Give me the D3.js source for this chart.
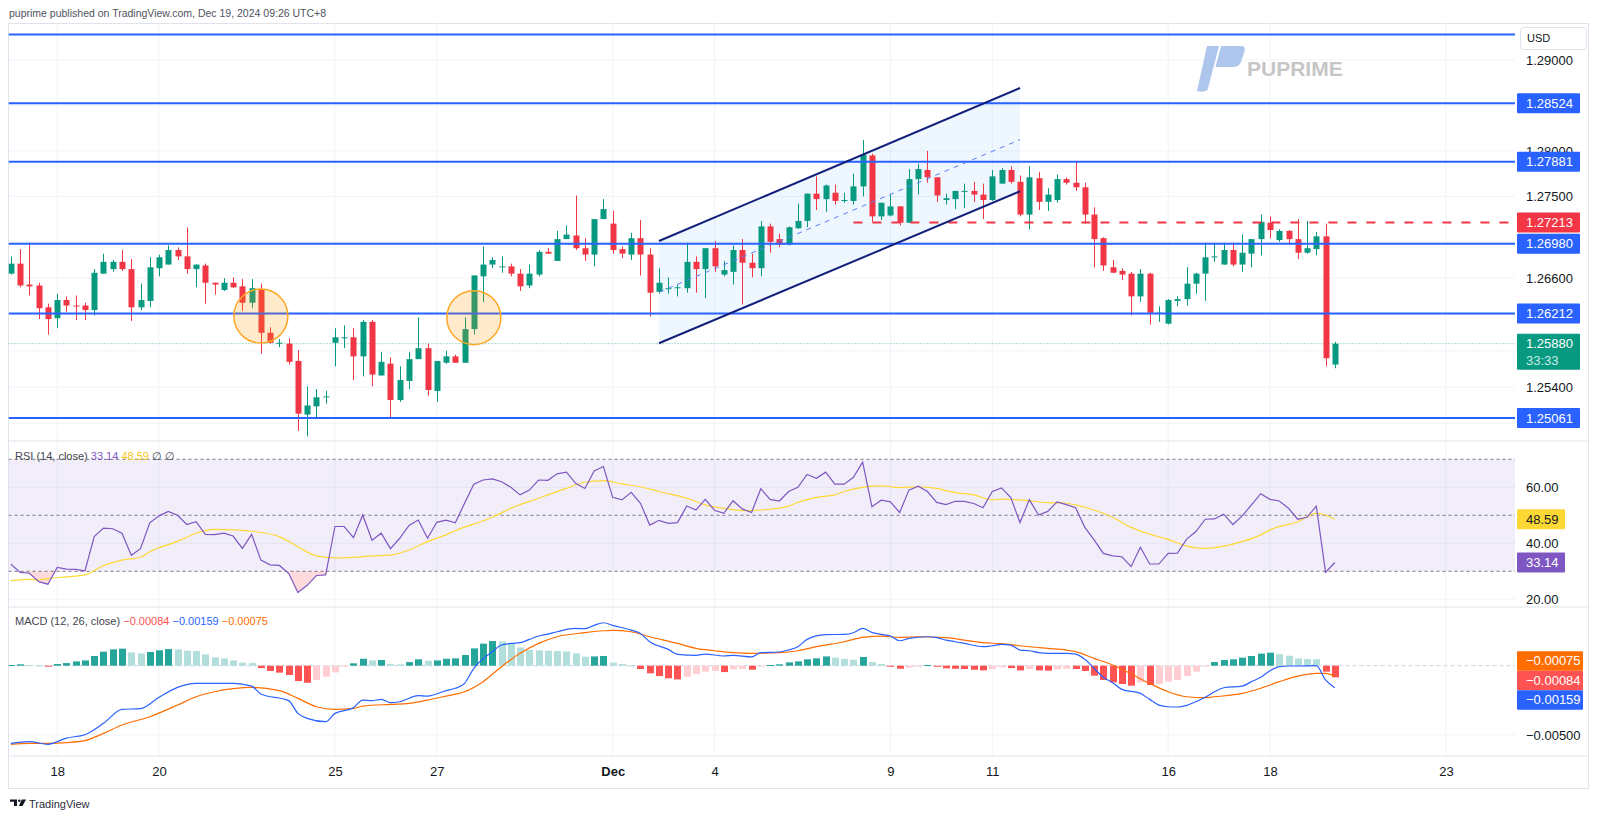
<!DOCTYPE html>
<html><head><meta charset="utf-8">
<script src="https://cdn.jsdelivr.net/npm/d3@7"></script>
<style>
html,body{margin:0;padding:0;background:#fff;}
svg{display:block;}
</style></head>
<body>
<svg id="chart" width="1600" height="819"></svg>
<script>
// ---------------- DATA ----------------
const barStart = -5; // index of first bar (0 = Nov 18 first bar)
const opens = [
1.2665,1.2676,1.2653,1.2652,1.2628,1.2616,1.2636,1.2630,1.2630,1.2625,
1.2665,1.2670,1.2678,1.2670,1.2628,1.2635,1.2671,1.2675,1.2691,1.2684,
1.2670,1.2674,1.2655,1.2647,1.2655,1.2651,1.2633,1.2648,1.2600,1.2588,
1.2588,1.2569,1.2510,1.2519,1.2529,1.2589,1.2594,1.2595,1.2574,1.2612,
1.2553,1.2566,1.2526,1.2547,1.2571,1.2583,1.2536,1.2567,1.2574,1.2567,
1.2604,1.2662,1.2675,1.2672,1.2673,1.2665,1.2652,1.2664,1.2689,1.2679,
1.2703,1.2707,1.2693,1.2686,1.2725,1.2720,1.2692,1.2686,1.2704,1.2686,
1.2645,1.2648,1.2649,1.2649,1.2678,1.2670,1.2693,1.2664,1.2667,1.2691,
1.2677,1.2671,1.2717,1.2703,1.2697,1.2715,1.2723,1.2753,1.2747,1.2754,
1.2745,1.2745,1.2761,1.2795,1.2728,1.2729,1.2739,1.2721,1.2769,1.2779,
1.2771,1.2746,1.2747,1.2755,1.2756,1.2752,1.2746,1.2764,1.2779,1.2766,
1.2730,1.2770,1.2744,1.2746,1.2769,1.2765,1.2760,1.2730,1.2704,1.2672,
1.2668,1.2665,1.2640,1.2665,1.2621,1.2610,1.2635,1.2637,1.2654,1.2665,
1.2683,1.2675,1.2691,1.2675,1.2687,1.2703,1.2721,1.2702,1.2712,1.2703,
1.2688,1.2692,1.2706,1.2565];
const highs = [
1.2684,1.2692,1.2699,1.2655,1.2632,1.2643,1.2640,1.2641,1.2633,1.2670,
1.2687,1.2680,1.2691,1.2681,1.2654,1.2683,1.2686,1.2696,1.2694,1.2716,
1.2675,1.2676,1.2655,1.2660,1.2661,1.2659,1.2659,1.2654,1.2606,1.2593,
1.2594,1.2581,1.2541,1.2538,1.2536,1.2605,1.2608,1.2605,1.2614,1.2614,
1.2579,1.2573,1.2563,1.2579,1.2617,1.2588,1.2569,1.2580,1.2576,1.2617,
1.2663,1.2695,1.2683,1.2684,1.2676,1.2670,1.2675,1.2691,1.2693,1.2712,
1.2718,1.2751,1.2704,1.2725,1.2747,1.2734,1.2695,1.2710,1.2724,1.2693,
1.2671,1.2661,1.2653,1.2699,1.2684,1.2693,1.2701,1.2679,1.2696,1.2703,
1.2687,1.2723,1.2720,1.2709,1.2717,1.2742,1.2753,1.2772,1.2763,1.2763,
1.2754,1.2775,1.2812,1.2797,1.2743,1.2752,1.2739,1.2780,1.2786,1.2800,
1.2771,1.2753,1.2756,1.2764,1.2766,1.2764,1.2779,1.2781,1.2783,1.2773,
1.2783,1.2777,1.2759,1.2774,1.2771,1.2789,1.2765,1.2738,1.2705,1.2680,
1.2671,1.2667,1.2670,1.2666,1.2629,1.2637,1.2640,1.2672,1.2666,1.2699,
1.2699,1.2699,1.2699,1.2708,1.2703,1.2730,1.2728,1.2714,1.2713,1.2725,
1.2723,1.2711,1.2720,1.2590];
const lows = [
1.2664,1.2650,1.2641,1.2615,1.2598,1.2605,1.2623,1.2614,1.2614,1.2619,
1.2665,1.2667,1.2668,1.2613,1.2625,1.2628,1.2662,1.2675,1.2680,1.2665,
1.2650,1.2632,1.2642,1.2646,1.2649,1.2624,1.2627,1.2577,1.2588,1.2584,
1.2565,1.2492,1.2486,1.2506,1.2522,1.2563,1.2583,1.2548,1.2552,1.2541,
1.2553,1.2506,1.2524,1.2538,1.2571,1.2531,1.2524,1.2566,1.2567,1.2567,
1.2598,1.2634,1.2671,1.2666,1.2662,1.2646,1.2649,1.2662,1.2687,1.2679,
1.2703,1.2691,1.2679,1.2673,1.2725,1.2687,1.2682,1.2680,1.2663,1.2618,
1.2643,1.2643,1.2640,1.2644,1.2644,1.2638,1.2667,1.2662,1.2653,1.2631,
1.2661,1.2662,1.2688,1.2694,1.2696,1.2714,1.2716,1.2735,1.2733,1.2741,
1.2743,1.2741,1.2750,1.2722,1.2724,1.2728,1.2718,1.2721,1.2752,1.2765,
1.2744,1.2741,1.2736,1.2737,1.2744,1.2725,1.2745,1.2764,1.2764,1.2728,
1.2714,1.2735,1.2734,1.2743,1.2763,1.2756,1.2720,1.2672,1.2668,1.2666,
1.2658,1.2619,1.2634,1.2609,1.2612,1.2609,1.2629,1.2630,1.2643,1.2635,
1.2678,1.2675,1.2673,1.2667,1.2672,1.2685,1.2704,1.2700,1.2697,1.2681,
1.2687,1.2685,1.2563,1.2561];
const closes = [
1.2676,1.2652,1.2651,1.2627,1.2615,1.2636,1.2630,1.2629,1.2625,1.2666,
1.2678,1.2678,1.2670,1.2628,1.2636,1.2672,1.2683,1.2691,1.2684,1.2670,
1.2675,1.2655,1.2653,1.2655,1.2650,1.2633,1.2649,1.2600,1.2589,1.2589,
1.2568,1.2511,1.2520,1.2529,1.2530,1.2595,1.2595,1.2574,1.2612,1.2554,
1.2568,1.2526,1.2548,1.2571,1.2583,1.2537,1.2569,1.2574,1.2567,1.2604,
1.2663,1.2675,1.2680,1.2673,1.2665,1.2651,1.2665,1.2689,1.2687,1.2703,
1.2708,1.2693,1.2686,1.2725,1.2736,1.2691,1.2687,1.2704,1.2686,1.2644,
1.2655,1.2649,1.2650,1.2678,1.2670,1.2693,1.2673,1.2669,1.2691,1.2677,
1.2671,1.2717,1.2700,1.2697,1.2716,1.2723,1.2753,1.2747,1.2762,1.2745,
1.2746,1.2761,1.2796,1.2728,1.2743,1.2739,1.2721,1.2769,1.2780,1.2771,
1.2751,1.2748,1.2756,1.2756,1.2752,1.2746,1.2772,1.2779,1.2766,1.2730,
1.2771,1.2744,1.2752,1.2769,1.2765,1.2760,1.2730,1.2703,1.2674,1.2666,
1.2664,1.2640,1.2665,1.2622,1.2622,1.2636,1.2637,1.2654,1.2665,1.2683,
1.2684,1.2691,1.2675,1.2688,1.2703,1.2722,1.2713,1.2712,1.2703,1.2688,
1.2693,1.2706,1.2572,1.2588];

const rsiValues = [
32.5,29.6,29.3,26.3,25.4,31.4,30.8,30.7,30.2,42.4,
45.4,45.2,43.6,35.7,38.1,47.3,49.8,51.4,50.0,46.7,
47.7,43.2,43.1,43.6,42.6,38.2,43.2,34.0,32.3,32.1,
29.3,22.4,25.0,28.5,28.7,46.0,46.0,42.0,50.1,41.1,
43.6,38.1,41.8,46.4,48.3,41.8,47.5,48.3,47.3,54.3,
61.1,62.6,63.0,62.0,60.0,57.3,59.0,62.6,62.5,64.8,
65.4,61.4,59.6,65.8,67.4,56.4,55.5,58.2,54.3,46.5,
48.2,47.1,47.4,53.3,51.9,55.7,51.8,50.7,55.2,52.3,
51.0,59.5,55.7,55.1,58.5,60.0,64.6,63.2,65.4,61.1,
61.1,63.6,69.0,53.1,55.4,54.8,51.0,59.0,60.4,58.5,
54.6,53.8,55.0,55.0,54.2,52.7,58.5,59.8,56.3,47.4,
55.6,50.1,51.4,54.8,53.8,52.7,45.7,41.2,36.4,35.5,
35.2,31.7,38.6,32.6,32.6,36.4,36.5,41.5,44.2,48.6,
48.7,50.4,46.7,49.8,53.7,57.7,55.7,55.1,52.5,48.6,
49.3,53.3,29.6,33.14];

// RSI-based moving average, read at points along the curve [bar, value]
const rsiMaPoints = [
[-5,26.7],[-3,27.1],[-2,26.9],[-1,27.4],[1,28.0],[3,28.7],[5,32.0],[7,34.0],[9,35.0],[10,37.0],
[13,40.7],[15,43.6],[17,45.0],[19,44.8],[21,44.3],[24,42.4],[26,38.8],[28,35.5],[30,34.8],[32,35.0],
[34,35.5],[36,35.8],[38,37.6],[40,40.6],[42,43.0],[43,44.5],[47,49.3],[49,52.5],[52,56.1],[55,59.6],
[57,61.8],[59,62.4],[61,61.2],[63,60.2],[65,58.5],[68,56.1],[70,53.7],[72,52.5],[74,51.7],[76,51.9],
[79,53.3],[80,54.6],[82,56.4],[84,57.3],[85,58.5],[87,60.0],[89,60.5],[91,59.9],[93,60.2],[95,59.6],
[97,58.1],[99,57.3],[101,55.5],[102,55.8],[104,55.5],[107,54.5],[109,54.3],[110,53.7],[112,51.9],[114,49.3],
[116,45.7],[118,43.3],[120,41.4],[122,39.0],[124,38.2],[126,39.0],[128,40.6],[130,43.0],[131,44.8],[134,47.7],
[136,50.7],[137,50.1],[138,48.59]];

const macdPoints = [
[-5,-0.00560],[-3,-0.00548],[-1,-0.00567],[1,-0.00522],[3,-0.00498],[5,-0.00416],[7,-0.00315],[9,-0.00310],
[11,-0.00228],[13,-0.00156],[15,-0.00127],[17,-0.00127],[19,-0.00127],[21,-0.00147],[22,-0.00204],[25,-0.00252],
[26,-0.00344],[27,-0.00380],[29,-0.00404],[30,-0.00344],[32,-0.00303],[33,-0.00248],[34,-0.00252],[35,-0.00243],
[36,-0.00267],[37,-0.00260],[39,-0.00216],[40,-0.00219],[42,-0.00180],[43,-0.00163],[44,-0.00127],[45,-0.00019],
[47,0.00101],[48,0.00149],[49,0.00161],[50,0.00166],[51,0.00190],[52,0.00214],[53,0.00228],[54,0.00245],
[56,0.00269],[57,0.00267],[58,0.00291],[59,0.00310],[60,0.00291],[62,0.00257],[63,0.00233],[64,0.00173],
[66,0.00118],[67,0.00082],[69,0.00075],[70,0.00084],[72,0.00070],[73,0.00075],[75,0.00063],[76,0.00094],
[78,0.00099],[79,0.00113],[80,0.00137],[81,0.00190],[83,0.00224],[85,0.00226],[86,0.00238],[87,0.00269],
[88,0.00240],[89,0.00226],[90,0.00214],[91,0.00180],[92,0.00197],[94,0.00209],[95,0.00202],[96,0.00185],
[97,0.00173],[98,0.00161],[100,0.00137],[101,0.00144],[102,0.00154],[103,0.00149],[104,0.00113],[105,0.00108],
[106,0.00094],[107,0.00089],[109,0.00089],[110,0.00084],[111,0.00046],[112,-0.00019],[113,-0.00084],[114,-0.00123],
[115,-0.00171],[117,-0.00200],[118,-0.00243],[119,-0.00284],[120,-0.00296],[121,-0.00298],[122,-0.00286],[123,-0.00260],
[124,-0.00228],[125,-0.00188],[126,-0.00159],[128,-0.00147],[129,-0.00115],[130,-0.00084],[131,-0.00036],[132,-0.00007],
[133,-0.00002],[134,-0.00002],[136,0.00000],[137,-0.00103],[138,-0.00159]];

const signalPoints = [
[-5,-0.00567],[-3,-0.00560],[-1,-0.00560],[1,-0.00555],[3,-0.00541],[5,-0.00488],[7,-0.00428],[10,-0.00368],
[13,-0.00284],[15,-0.00224],[17,-0.00188],[19,-0.00166],[21,-0.00156],[24,-0.00180],[26,-0.00236],[28,-0.00296],
[30,-0.00315],[32,-0.00308],[33,-0.00291],[36,-0.00279],[38,-0.00272],[40,-0.00248],[42,-0.00219],[44,-0.00188],
[46,-0.00115],[48,-0.00007],[50,0.00089],[52,0.00161],[54,0.00209],[57,0.00238],[59,0.00252],[60,0.00255],
[62,0.00245],[64,0.00209],[67,0.00161],[69,0.00125],[71,0.00108],[73,0.00094],[75,0.00089],[78,0.00094],
[80,0.00108],[82,0.00137],[85,0.00173],[87,0.00204],[89,0.00214],[91,0.00204],[93,0.00209],[96,0.00202],
[98,0.00185],[100,0.00166],[102,0.00159],[104,0.00144],[107,0.00125],[109,0.00113],[110,0.00101],[112,0.00053],
[114,0.00005],[116,-0.00060],[118,-0.00127],[120,-0.00188],[122,-0.00224],[124,-0.00231],[125,-0.00224],[128,-0.00200],
[130,-0.00163],[132,-0.00115],[134,-0.00075],[136,-0.00055],[137,-0.00055],[138,-0.00075]];

const histValues = [
0.00005,0.00010,0.00005,0.00002,-0.00007,0.00012,0.00019,0.00031,0.00038,0.00070,
0.00101,0.00118,0.00123,0.00096,0.00089,0.00099,0.00111,0.00120,0.00118,0.00108,
0.00106,0.00082,0.00060,0.00053,0.00038,0.00022,0.00019,-0.00017,-0.00038,-0.00050,
-0.00067,-0.00111,-0.00123,-0.00103,-0.00079,-0.00048,-0.00002,0.00017,0.00050,0.00038,
0.00041,0.00012,0.00010,0.00026,0.00046,0.00036,0.00038,0.00050,0.00053,0.00077,
0.00125,0.00159,0.00178,0.00175,0.00159,0.00132,0.00113,0.00111,0.00108,0.00106,
0.00103,0.00089,0.00065,0.00067,0.00070,0.00022,0.00012,0.00002,-0.00024,-0.00055,
-0.00075,-0.00091,-0.00099,-0.00079,-0.00060,-0.00043,-0.00038,-0.00046,-0.00026,-0.00024,
-0.00029,-0.00005,0.00005,0.00010,0.00024,0.00031,0.00046,0.00053,0.00067,0.00058,
0.00050,0.00043,0.00063,0.00026,0.00012,-0.00007,-0.00022,-0.00014,-0.00007,0.00005,
-0.00007,-0.00019,-0.00022,-0.00024,-0.00029,-0.00034,-0.00024,-0.00012,-0.00017,-0.00034,
-0.00024,-0.00034,-0.00036,-0.00026,-0.00022,-0.00024,-0.00038,-0.00072,-0.00103,-0.00120,
-0.00132,-0.00144,-0.00120,-0.00139,-0.00132,-0.00115,-0.00103,-0.00075,-0.00043,-0.00005,
0.00026,0.00041,0.00046,0.00058,0.00070,0.00087,0.00094,0.00084,0.00072,0.00053,
0.00048,0.00046,-0.00043,-0.00084];

const dateTickBars = [0,11,30,41,60,71,90,101,120,131,150];
const dateTickLabels = ['18','20','25','27','Dec','4','9','11','16','18','23'];
const priceGridTicks = [1.29,1.285,1.28,1.275,1.27,1.266,1.262,1.258,1.254,1.25];
const priceLabelTicks = [1.29,1.28,1.275,1.266,1.254];
const rsiTicks = [60,40,20];
const rsiLevels = [70,50,30];
const macdTicks = [-0.005];

const levelPrices = [1.2928,1.28524,1.27881,1.26980,1.26212,1.25061];
const levelLabelled = [false,true,true,true,true,true];
const dashedLevel = 1.27213, dashedLevelStartBar = 86;
const lastPrice = 1.25880, countdown = '33:33';
const channelBars = [65,104];
const channelUpper = [1.27009,1.28692];
const channelLower = [1.25884,1.27556];
const circleMarks = [[22,1.26184],[45,1.26166]];
const rsiLast = 33.14, rsiMaLast = 48.59;
const macdLast = -0.00159, signalLast = -0.00075, histLast = -0.00084;

// ---------------- LAYOUT ----------------
const FONT = "'Liberation Sans', Arial, sans-serif";
const svg = d3.select('#chart').style('font-family', FONT);
const L = 8.5, R = 1515, AXR = 1588.5;
const P = {top:23.5, bot:441}, RS = {top:441, bot:607}, MC = {top:607, bot:756}, AX = {bot:788.5};

const x = d3.scaleLinear().domain([0,150]).range([57.2,1445.9]);
const yP = d3.scaleLinear().domain([1.254,1.29]).range([387.3,60]);
const yR = d3.scaleLinear().domain([30,70]).range([571.3,459.3]);
const yM = d3.scaleLinear().domain([-0.005,0]).range([735,665.7]);

const defs = svg.append('defs');
function clip(id, y0, y1){ defs.append('clipPath').attr('id',id).append('rect').attr('x',L).attr('y',y0).attr('width',R-L).attr('height',y1-y0); }
clip('cp',P.top,P.bot); clip('cr',RS.top,RS.bot); clip('cm',MC.top,MC.bot);
defs.append('clipPath').attr('id','crLow').append('rect').attr('x',L).attr('y',yR(30)).attr('width',R-L).attr('height',RS.bot-yR(30));

// header
svg.append('text').attr('x',9).attr('y',17).attr('font-size',10.5).attr('fill','#50535e')
  .text('puprime published on TradingView.com, Dec 19, 2024 09:26 UTC+8');

// frame
svg.append('rect').attr('x',L).attr('y',P.top).attr('width',AXR-L).attr('height',AX.bot-P.top)
  .attr('fill','none').attr('stroke','#e0e3eb');

// grids
const grid = svg.append('g');
dateTickBars.forEach(b=>{
  grid.append('line').attr('x1',x(b)).attr('x2',x(b)).attr('y1',P.top).attr('y2',MC.bot).attr('stroke','#f0f3fa');
});
priceGridTicks.forEach(p=>grid.append('line').attr('x1',L).attr('x2',R).attr('y1',yP(p)).attr('y2',yP(p)).attr('stroke','#f0f3fa'));
rsiTicks.forEach(v=>grid.append('line').attr('x1',L).attr('x2',R).attr('y1',yR(v)).attr('y2',yR(v)).attr('stroke','#f0f3fa'));
macdTicks.forEach(v=>grid.append('line').attr('x1',L).attr('x2',R).attr('y1',yM(v)).attr('y2',yM(v)).attr('stroke','#f0f3fa'));
// pane separators
[RS.top, MC.top, MC.bot].forEach(yy=>svg.append('line').attr('x1',L).attr('x2',AXR).attr('y1',yy).attr('y2',yy).attr('stroke','#e0e3eb'));

// ---------------- PRICE PANE ----------------
const gp = svg.append('g').attr('clip-path','url(#cp)');
// channel fill
const chPoly = [[x(channelBars[0]),yP(channelUpper[0])],[x(channelBars[1]),yP(channelUpper[1])],
                [x(channelBars[1]),yP(channelLower[1])],[x(channelBars[0]),yP(channelLower[0])]];
gp.append('path').attr('d','M'+chPoly.map(p=>p.join(',')).join('L')+'Z').attr('fill','rgba(33,150,243,0.08)');

// dotted last-price line
gp.append('line').attr('x1',L).attr('x2',R).attr('y1',yP(lastPrice)).attr('y2',yP(lastPrice))
  .attr('stroke','#089981').attr('stroke-dasharray','1,2').attr('stroke-opacity',0.7);

// candles
const bars = opens.map((o,k)=>({i:k+barStart,o,h:highs[k],l:lows[k],c:closes[k]}));
const cg = gp.append('g');
cg.selectAll('line.w').data(bars).join('line').attr('class','w')
  .attr('x1',d=>Math.round(x(d.i))+0.5).attr('x2',d=>Math.round(x(d.i))+0.5)
  .attr('y1',d=>yP(d.h)).attr('y2',d=>yP(d.l))
  .attr('stroke',d=>d.c>=d.o?'#089981':'#f23645');
cg.selectAll('rect.b').data(bars).join('rect').attr('class','b')
  .attr('x',d=>Math.round(x(d.i))-2.5).attr('width',6)
  .attr('y',d=>yP(Math.max(d.o,d.c)))
  .attr('height',d=>Math.max(1,yP(Math.min(d.o,d.c))-yP(Math.max(d.o,d.c))))
  .attr('fill',d=>d.c>=d.o?'#089981':'#f23645');

// horizontal levels
levelPrices.forEach(p=>gp.append('line').attr('x1',L).attr('x2',R).attr('y1',yP(p)).attr('y2',yP(p))
  .attr('stroke','#2962ff').attr('stroke-width',2));
gp.append('line').attr('x1',x(dashedLevelStartBar)).attr('x2',R).attr('y1',yP(dashedLevel)).attr('y2',yP(dashedLevel))
  .attr('stroke','#f23645').attr('stroke-width',2).attr('stroke-dasharray','9,10');

// channel lines
const lineP = d3.line().x(d=>x(d[0])).y(d=>yP(d[1]));
gp.append('path').attr('d',lineP([[channelBars[0],channelUpper[0]],[channelBars[1],channelUpper[1]]]))
  .attr('stroke','#131f7a').attr('stroke-width',2).attr('fill','none');
gp.append('path').attr('d',lineP([[channelBars[0],channelLower[0]],[channelBars[1],channelLower[1]]]))
  .attr('stroke','#131f7a').attr('stroke-width',2).attr('fill','none');
gp.append('path').attr('d',lineP([[channelBars[0],(channelUpper[0]+channelLower[0])/2],[channelBars[1],(channelUpper[1]+channelLower[1])/2]]))
  .attr('stroke','#5c7cfa').attr('stroke-width',1).attr('stroke-dasharray','5,5').attr('fill','none');

// circles
circleMarks.forEach(c=>gp.append('circle').attr('cx',x(c[0])).attr('cy',yP(c[1])).attr('r',27)
  .attr('fill','rgba(255,152,0,0.2)').attr('stroke','#ffa726').attr('stroke-width',1.5));

// watermark
const wm = svg.append('g');
wm.append('path').attr('d','M1207,46 L1219,46 L1207.5,90 Q1203,93 1197,91 Z').attr('fill','#aec6eb');
wm.append('path').attr('d','M1221,46 L1241,46 Q1246,46 1244.5,51 L1241,62 Q1239,67 1233,67 L1215.5,67 Z').attr('fill','#aec6eb');
wm.append('text').attr('x',1247).attr('y',75.5).attr('font-size',21).attr('font-weight','bold').attr('fill','#c6c6c6').text('PUPRIME');

// ---------------- RSI PANE ----------------
const gr = svg.append('g').attr('clip-path','url(#cr)');
gr.append('rect').attr('x',L).attr('width',R-L).attr('y',yR(70)).attr('height',yR(30)-yR(70)).attr('fill','rgba(126,87,194,0.1)');
rsiLevels.forEach(v=>gr.append('line').attr('x1',L).attr('x2',R).attr('y1',yR(v)).attr('y2',yR(v))
  .attr('stroke','#787b86').attr('stroke-dasharray','3,3').attr('stroke-width',1));
const rsiData = rsiValues.map((v,k)=>[k+barStart,v]);
gr.append('path').attr('clip-path','url(#crLow)')
  .attr('d',d3.area().x(d=>x(d[0])).y0(yR(30)).y1(d=>yR(d[1]))(rsiData))
  .attr('fill','rgba(242,54,69,0.18)');
gr.append('path').attr('d',d3.line().x(d=>x(d[0])).y(d=>yR(d[1])).curve(d3.curveMonotoneX)(rsiMaPoints))
  .attr('fill','none').attr('stroke','#fdd835').attr('stroke-width',1.2);
gr.append('path').attr('d',d3.line().x(d=>x(d[0])).y(d=>yR(d[1]))(rsiData))
  .attr('fill','none').attr('stroke','#7e57c2').attr('stroke-width',1.2);

// legend
const rl = svg.append('text').attr('x',15).attr('y',459.5).attr('font-size',11);
rl.append('tspan').attr('fill','#434651').text('RSI (14, close) ');
rl.append('tspan').attr('fill','#7e57c2').text(d3.format('.2f')(rsiLast)+' ');
rl.append('tspan').attr('fill','#f5c518').text(d3.format('.2f')(rsiMaLast)+' ');
rl.append('tspan').attr('fill','#434651').text('∅ ∅');

// ---------------- MACD PANE ----------------
const gm = svg.append('g').attr('clip-path','url(#cm)');
gm.append('line').attr('x1',L).attr('x2',R).attr('y1',yM(0)).attr('y2',yM(0)).attr('stroke','#cfd2da').attr('stroke-dasharray','4,3');
const hist = histValues.map((v,k)=>({i:k+barStart,v,prev:k>0?histValues[k-1]:null}));
function histColor(d){
  if(d.v>=0) return (d.prev===null||d.v>d.prev)?'#26a69a':'#b2dfdb';
  return (d.prev===null||d.v<d.prev)?'#ff5252':'#ffcdd2';
}
gm.selectAll('rect.h').data(hist).join('rect').attr('class','h')
  .attr('x',d=>Math.round(x(d.i))-3).attr('width',7)
  .attr('y',d=>Math.min(yM(d.v),yM(0))).attr('height',d=>Math.max(1,Math.abs(yM(d.v)-yM(0))))
  .attr('fill',histColor);
gm.append('path').attr('d',d3.line().x(d=>x(d[0])).y(d=>yM(d[1])).curve(d3.curveMonotoneX)(signalPoints))
  .attr('fill','none').attr('stroke','#ff6d00').attr('stroke-width',1.2);
gm.append('path').attr('d',d3.line().x(d=>x(d[0])).y(d=>yM(d[1])).curve(d3.curveMonotoneX)(macdPoints))
  .attr('fill','none').attr('stroke','#2962ff').attr('stroke-width',1.2);

const fmt5 = d3.format('.5f');
const ml = svg.append('text').attr('x',15).attr('y',625).attr('font-size',11);
ml.append('tspan').attr('fill','#434651').text('MACD (12, 26, close) ');
ml.append('tspan').attr('fill','#ff5252').text(fmt5(histLast)+' ');
ml.append('tspan').attr('fill','#2962ff').text(fmt5(macdLast)+' ');
ml.append('tspan').attr('fill','#ff6d00').text(fmt5(signalLast));

// ---------------- AXES ----------------
function styleAxis(g){
  g.select('.domain').remove();
  g.selectAll('text').attr('font-family',FONT).attr('font-size',13).attr('fill','#131722');
}
svg.append('g').attr('transform',`translate(${R},0)`)
  .call(d3.axisRight(yP).tickValues(priceLabelTicks).tickFormat(fmt5).tickSize(0).tickPadding(11)).call(styleAxis);
svg.append('g').attr('transform',`translate(${R},0)`)
  .call(d3.axisRight(yR).tickValues(rsiTicks).tickFormat(d3.format('.2f')).tickSize(0).tickPadding(11)).call(styleAxis);
svg.append('g').attr('transform',`translate(${R},0)`)
  .call(d3.axisRight(yM).tickValues(macdTicks).tickFormat(fmt5).tickSize(0).tickPadding(11)).call(styleAxis);
svg.append('g').attr('transform',`translate(0,${MC.bot})`)
  .call(d3.axisBottom(x).tickValues(dateTickBars).tickFormat((d,k)=>dateTickLabels[k]).tickSize(0).tickPadding(11))
  .call(styleAxis)
  .selectAll('text').attr('font-weight',(d,k)=>dateTickLabels[k]==='Dec'?'bold':'normal');

// axis label boxes
function box(yc, h, w, fill, txt, tcol){
  svg.append('rect').attr('x',1517).attr('y',yc-h/2).attr('width',w).attr('height',h).attr('fill',fill).attr('rx',1);
  svg.append('text').attr('x',1526).attr('y',yc).attr('dy','0.35em').attr('font-size',13).attr('fill',tcol).text(txt);
}
levelPrices.forEach((p,k)=>{ if(levelLabelled[k]) box(yP(p),20,63,'#2962ff',fmt5(p),'#fff'); });
box(yP(dashedLevel),20,63,'#f23645',fmt5(dashedLevel),'#fff');
// last price with countdown
const lpY = yP(lastPrice);
svg.append('rect').attr('x',1517).attr('y',lpY-10).attr('width',63).attr('height',36).attr('fill','#089981').attr('rx',1);
svg.append('text').attr('x',1526).attr('y',lpY).attr('dy','0.35em').attr('font-size',13).attr('fill','#fff').text(fmt5(lastPrice));
svg.append('text').attr('x',1526).attr('y',lpY+17).attr('dy','0.35em').attr('font-size',13).attr('fill','#c8ece6').text(countdown);

box(yR(rsiMaLast),20,48,'#fdd835',d3.format('.2f')(rsiMaLast),'#131722');
box(yR(rsiLast),20,48,'#7e57c2',d3.format('.2f')(rsiLast),'#fff');

// MACD labels stacked to avoid overlap
const mLabels = [{v:signalLast,c:'#ff6d00'},{v:histLast,c:'#ff5252'},{v:macdLast,c:'#2962ff'}]
  .sort((a,b)=>b.v-a.v);
const mid = d3.mean(mLabels,d=>yM(d.v));
mLabels.forEach((d,k)=>box(mid+(k-1)*19.5,19.5,66,d.c,fmt5(d.v),'#fff'));

// USD box
svg.append('rect').attr('x',1520.5).attr('y',27.5).attr('width',66).attr('height',22).attr('rx',3)
  .attr('fill','#fff').attr('stroke','#e0e3eb');
svg.append('text').attr('x',1527).attr('y',38.5).attr('dy','0.35em').attr('font-size',11).attr('fill','#131722').text('USD');

// TradingView footer logo
const tv = svg.append('g').attr('transform','translate(10,799.5)');
tv.append('path').attr('d','M0,0 H7 V6.5 H4 V2.2 H0 Z').attr('fill','#131722');
tv.append('circle').attr('cx',9.3).attr('cy',1.3).attr('r',1.3).attr('fill','#131722');
tv.append('path').attr('d','M11.8,0 H16 L12.5,6.5 H8.8 Z').attr('fill','#131722');
svg.append('text').attr('x',29).attr('y',807.5).attr('font-size',11).attr('fill','#2a2e39').text('TradingView');
</script>
</body></html>
